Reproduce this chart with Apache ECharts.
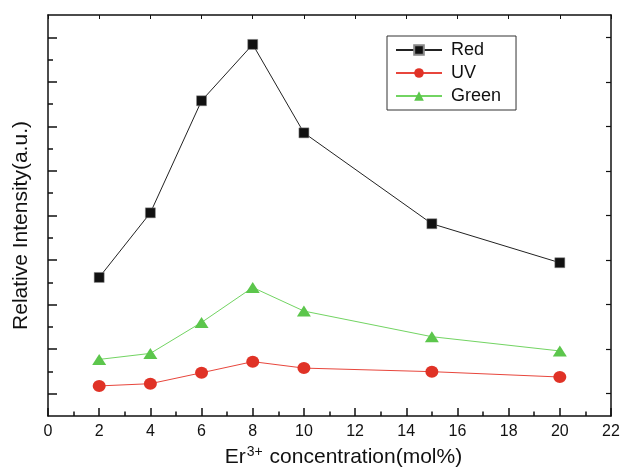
<!DOCTYPE html>
<html>
<head>
<meta charset="utf-8">
<script src="https://cdn.jsdelivr.net/npm/echarts@6/dist/echarts.min.js"></script>
<style>
  html, body { margin: 0; padding: 0; background: #fff; }
  #chart { width: 622px; height: 468px; }
</style>
</head>
<body>
<div id="chart"></div>
<script>
// Er3+ 浓度 (mol%)
const concentration = [2, 4, 6, 8, 10, 15, 20];
// 相对强度 (a.u.)，纵轴无刻度值
const redValues = [6.22, 9.12, 14.15, 16.68, 12.71, 8.63, 6.88];
const uvValues = [1.35, 1.45, 1.94, 2.44, 2.15, 1.99, 1.75];
const greenValues = [2.54, 2.81, 4.20, 5.77, 4.71, 3.56, 2.92];
const xTicks = [0, 2, 4, 6, 8, 10, 12, 14, 16, 18, 20, 22];
const yLongTicks = [1, 3, 5, 7, 9, 11, 13, 15, 17];
const yShortTicks = [2, 4, 6, 8, 10, 12, 14, 16];

const font = '"Liberation Sans", Arial, Helvetica, sans-serif';
let myChart = echarts.init(document.getElementById('chart'));

const pairs = vals => concentration.map((x, i) => [x, vals[i]]);

const baseY = {
  type: 'value', min: 0, max: 18,
  splitLine: { show: false },
  axisLabel: { show: false }
};

let option = {
  animation: false,
  backgroundColor: '#fff',
  textStyle: { fontFamily: font },
  grid: { left: 48, right: 11, top: 15, bottom: 52, outerBoundsMode: 'none', containLabel: false },
  legend: {
    orient: 'vertical',
    left: 387, top: 36,
    padding: [5, 15, 5, 8],
    itemWidth: 46, itemHeight: 12, itemGap: 5,
    borderColor: '#333', borderWidth: 1,
    textStyle: { fontSize: 18, color: '#111', fontFamily: font, padding: [0, 0, 0, 4] },
    data: ['Red', 'UV', 'Green']
  },
  xAxis: [{
    type: 'value', min: 0, max: 22, interval: 2,
    position: 'bottom',
    name: '{a|Er}{sup|3+}{a| concentration(mol%)}',
    nameLocation: 'middle', nameGap: 27,
    nameTextStyle: {
      padding: [0, 0, 0, 28],
      rich: {
        a: { fontSize: 21, color: '#111', fontFamily: font, lineHeight: 24 },
        sup: { fontSize: 14, color: '#111', fontFamily: font, padding: [0, 1, 10, 1], lineHeight: 24 }
      }
    },
    axisLine: { show: true, onZero: false, lineStyle: { color: '#111', width: 1.5 } },
    axisTick: { inside: true, length: 8, lineStyle: { color: '#111', width: 1.5 } },
    minorTick: { show: true, splitNumber: 2, length: 4.5, lineStyle: { color: '#111', width: 1.5 } },
    axisLabel: { color: '#111', fontSize: 16, margin: 8, fontFamily: font,
      customValues: xTicks },
    splitLine: { show: false }
  }, {
    type: 'value', min: 0, max: 22, interval: 2,
    position: 'top',
    axisLine: { show: true, onZero: false, lineStyle: { color: '#111', width: 1.5 } },
    axisTick: { inside: true, length: 4, lineStyle: { color: '#111', width: 1 } },
    axisLabel: { show: false },
    splitLine: { show: false }
  }],
  yAxis: [Object.assign({}, baseY, {
    position: 'left',
    name: 'Relative Intensity(a.u.)',
    nameLocation: 'middle', nameGap: 16,
    nameTextStyle: { fontSize: 21, color: '#111', fontFamily: font, padding: [0, 20, 0, 0] },
    axisLine: { show: true, onZero: false, lineStyle: { color: '#111', width: 1.5 } },
    axisTick: { show: true, inside: true, length: 9, customValues: yLongTicks,
      lineStyle: { color: '#111', width: 1.5 } }
  }), Object.assign({}, baseY, {
    position: 'left',
    axisLine: { show: false, onZero: false },
    axisTick: { show: true, inside: true, length: 5, customValues: yShortTicks,
      lineStyle: { color: '#111', width: 1.5 } }
  }), Object.assign({}, baseY, {
    position: 'right',
    axisLine: { show: true, onZero: false, lineStyle: { color: '#111', width: 1.5 } },
    axisTick: { show: true, inside: true, length: 5, customValues: yLongTicks,
      lineStyle: { color: '#111', width: 1.2 } }
  })],
  series: [{
    name: 'Red', type: 'line',
    data: pairs(redValues),
    symbol: 'rect', symbolSize: 10,
    itemStyle: { color: '#111', borderColor: '#888', borderWidth: 0.5 },
    lineStyle: { color: '#222', width: 1 }
  }, {
    name: 'UV', type: 'line',
    data: pairs(uvValues),
    symbol: 'circle', symbolSize: [13, 12],
    itemStyle: { color: '#e03226' },
    lineStyle: { color: '#e8463c', width: 1 }
  }, {
    name: 'Green', type: 'line',
    data: pairs(greenValues),
    symbol: 'triangle', symbolSize: [14, 11],
    itemStyle: { color: '#5cc64c' },
    lineStyle: { color: '#72d462', width: 1 }
  }]
};
option && myChart.setOption(option, true);
</script>
</body>
</html>
